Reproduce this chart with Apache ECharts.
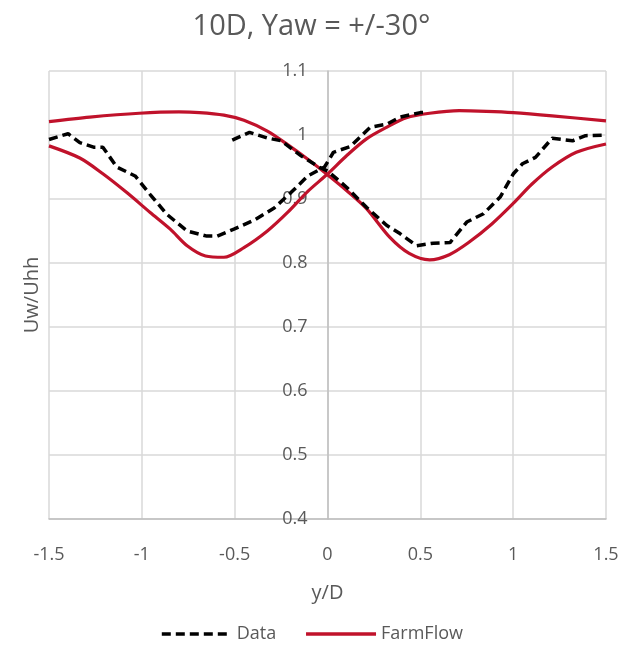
<!DOCTYPE html>
<html><head><meta charset="utf-8">
<script src="https://cdn.jsdelivr.net/npm/echarts@6/dist/echarts.min.js"></script>
<style>html,body{margin:0;padding:0;background:#fff}#c{width:623px;height:651px}</style>
</head><body><div id="c"></div>
<script>
// Data, left wake (dashed)
const dataA_x = [-1.5,-1.397,-1.334,-1.26,-1.21,-1.135,-1.036,-0.955,-0.865,-0.756,-0.65,-0.594,-0.504,-0.395,-0.287,-0.197,-0.106,-0.016,0.032,0.122,0.23,0.32,0.39,0.5,0.53];
const dataA_y = [0.993,1.002,0.988,0.981,0.981,0.95,0.936,0.907,0.876,0.85,0.842,0.842,0.853,0.867,0.886,0.91,0.936,0.95,0.973,0.982,1.012,1.017,1.028,1.035,1.035];
// Data, right wake (dashed)
const dataB_x = [-0.513,-0.42,-0.32,-0.25,-0.14,-0.04,0,0.104,0.21,0.318,0.39,0.48,0.57,0.66,0.75,0.84,0.93,1.0,1.05,1.12,1.21,1.32,1.39,1.5];
const dataB_y = [0.992,1.004,0.995,0.991,0.967,0.949,0.944,0.918,0.887,0.859,0.846,0.827,0.831,0.832,0.864,0.877,0.903,0.939,0.955,0.965,0.995,0.991,0.999,1.0];
// FarmFlow, left wake
const ffA_x = [-1.5,-1.334,-1.208,-1.081,-0.955,-0.847,-0.756,-0.657,-0.558,-0.45,-0.324,-0.215,-0.106,0,0.104,0.21,0.318,0.425,0.55,0.71,0.856,1.0,1.21,1.5];
const ffA_y = [0.983,0.964,0.939,0.91,0.879,0.853,0.827,0.811,0.809,0.824,0.85,0.879,0.912,0.939,0.968,0.994,1.012,1.027,1.034,1.038,1.037,1.035,1.03,1.022];
// FarmFlow, right wake
const ffB_x = [-1.5,-1.28,-1.014,-0.8,-0.69,-0.558,-0.45,-0.324,-0.215,-0.106,0,0.104,0.21,0.336,0.44,0.55,0.656,0.76,0.885,1.0,1.1,1.21,1.34,1.5];
const ffB_y = [1.021,1.028,1.034,1.036,1.035,1.031,1.023,1.006,0.985,0.962,0.938,0.913,0.885,0.84,0.815,0.805,0.813,0.832,0.861,0.893,0.923,0.95,0.973,0.986];

const title = '10D, Yaw = +/-30°';
const xName = 'y/D', yName = 'Uw/Uhh';
const xTicks = {min:-1.5, max:1.5, interval:0.5};
const yTicks = {min:0.4, max:1.1, interval:0.1};

const zip = (xs, ys) => xs.map((x,i)=>[x, ys[i]]);
const FONT = '"Open Sans", "Noto Sans", sans-serif';
const TXT = '#595959';
const RED = '#c0122b';

const W = 623, GL = 49, GR = 17;
const plotW = W - GL - GR;
// y axis sits at x = 0 of the x scale
const yAxisOffset = -plotW * (0 - xTicks.min) / (xTicks.max - xTicks.min);

const chart = echarts.init(document.getElementById('c'));
const dashed = {color:'#000', width:3.5, type:[9,5]};
const solid = {color:RED, width:3.2};
chart.setOption({
  animation:false,
  title:{text:title, left:'center', top:7, textStyle:{fontFamily:FONT, fontSize:29, fontWeight:'normal', color:TXT}},
  grid:{left:GL, right:GR, top:71, bottom:132, containLabel:false},
  legend:{bottom:3, left:'center', itemWidth:70, itemHeight:14, itemGap:28,
    itemStyle:{color:'transparent', borderColor:'transparent', borderWidth:0, opacity:0},
    lineStyle:{width:3.5},
    textStyle:{fontFamily:FONT, fontSize:18, color:TXT},
    data:['Data','FarmFlow']},
  xAxis:{type:'value', min:xTicks.min, max:xTicks.max, interval:xTicks.interval,
    name:xName, nameLocation:'middle', nameGap:64,
    nameTextStyle:{fontFamily:FONT, fontSize:20, color:TXT},
    axisLine:{onZero:false, lineStyle:{color:'#bfbfbf', width:1.5}},
    axisTick:{show:false},
    axisLabel:{margin:27, fontFamily:FONT, fontSize:18, color:TXT,
      formatter:v=>String(Math.round(v*10)/10)},
    splitLine:{lineStyle:{color:'#d9d9d9', width:1.5}}},
  yAxis:{type:'value', min:yTicks.min, max:yTicks.max, interval:yTicks.interval,
    offset:yAxisOffset,
    axisLine:{show:true, onZero:false, lineStyle:{color:'#bfbfbf', width:1.5}},
    axisTick:{show:false},
    axisLabel:{margin:20, fontFamily:FONT, fontSize:18, color:TXT,
      formatter:v=>String(Math.round(v*10)/10)},
    splitLine:{lineStyle:{color:'#d9d9d9', width:1.5}}},
  graphic:[{type:'text', x:32, y:295, rotation:Math.PI/2,
    style:{text:yName, font:'20px '+FONT, fill:TXT, align:'center', verticalAlign:'middle'}}],
  series:[
    {name:'Data', type:'line', data:zip(dataA_x,dataA_y), symbol:'none', lineStyle:dashed, itemStyle:{color:'#000'}, z:3},
    {name:'Data', type:'line', data:zip(dataB_x,dataB_y), symbol:'none', lineStyle:dashed, itemStyle:{color:'#000'}, z:3},
    {name:'FarmFlow', type:'line', data:zip(ffA_x,ffA_y), smooth:0.3, symbol:'none', lineStyle:solid, itemStyle:{color:RED}, z:2},
    {name:'FarmFlow', type:'line', data:zip(ffB_x,ffB_y), smooth:0.3, symbol:'none', lineStyle:solid, itemStyle:{color:RED}, z:2}
  ]
});
</script></body></html>
